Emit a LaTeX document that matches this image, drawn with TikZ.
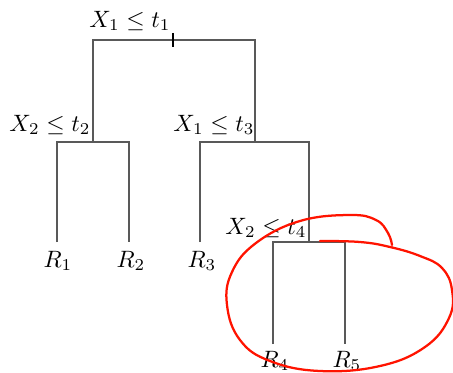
\documentclass[tikz,border=0pt]{standalone}
\usepackage{amsmath, amssymb}
\usepackage{tikz}

\begin{document}
\begin{tikzpicture}[x=0.01558cm, y=-0.01558cm, thick,
    branch/.style={draw=black!65, line width=0.65pt},
    split/.style={anchor=base, inner sep=0pt, scale=1.05},
    leaf/.style={anchor=base, inner sep=0pt, scale=1.05},
    scribble/.style={draw=red!85!orange, line width=1pt, line cap=round}]
    \useasboundingbox (0,0) rectangle (453,372);

    % split points and leaf ends
    \coordinate (n1) at (173,40);
    \coordinate (n2) at (93,142);
    \coordinate (n3) at (255,142);
    \coordinate (n4) at (309,242);
    \coordinate (l1) at (57,242);
    \coordinate (l2) at (129,242);
    \coordinate (l3) at (200,242);
    \coordinate (l4) at (273,344);
    \coordinate (l5) at (345,344);

    \node[split] (s1) at (130,27) {$X_1 \leq t_1$};
    \node[split] (s2) at (50,131) {$X_2 \leq t_2$};
    \node[split] (s3) at (214,131) {$X_1 \leq t_3$};
    \node[split] (s4) at (266,234) {$X_2 \leq t_4$};

    \node[leaf] (r1) at (58,267) {$R_1$};
    \node[leaf] (r2) at (131,267) {$R_2$};
    \node[leaf] (r3) at (202,267) {$R_3$};
    \node[leaf] (r4) at (275,367) {$R_4$};
    \node[leaf] (r5) at (347,367) {$R_5$};

    \draw[branch] (n2) |- (n1) -| (n3);
    \draw[branch] (l1) |- (n2) -| (l2);
    \draw[branch] (l3) |- (n3) -| (n4);
    \draw[branch] (l4) |- (n4) -| (l5);
    \draw[line width=0.9pt] ([yshift=3.2pt]n1) -- ([yshift=-3.2pt]n1);

    % hand drawn loop round the last split
    \draw[scribble] plot[smooth, tension=0.7] coordinates {
        (320,241) (360,242) (390,247) (420,256) (442,268) (452,290)
        (449,318) (425,347) (380,366) (320,371) (270,361) (240,340)
        (227,305) (232,272) (256,243) (300,221) (350,215) (376,220)
        (388,233) (392,245)};
\end{tikzpicture}
\end{document}
